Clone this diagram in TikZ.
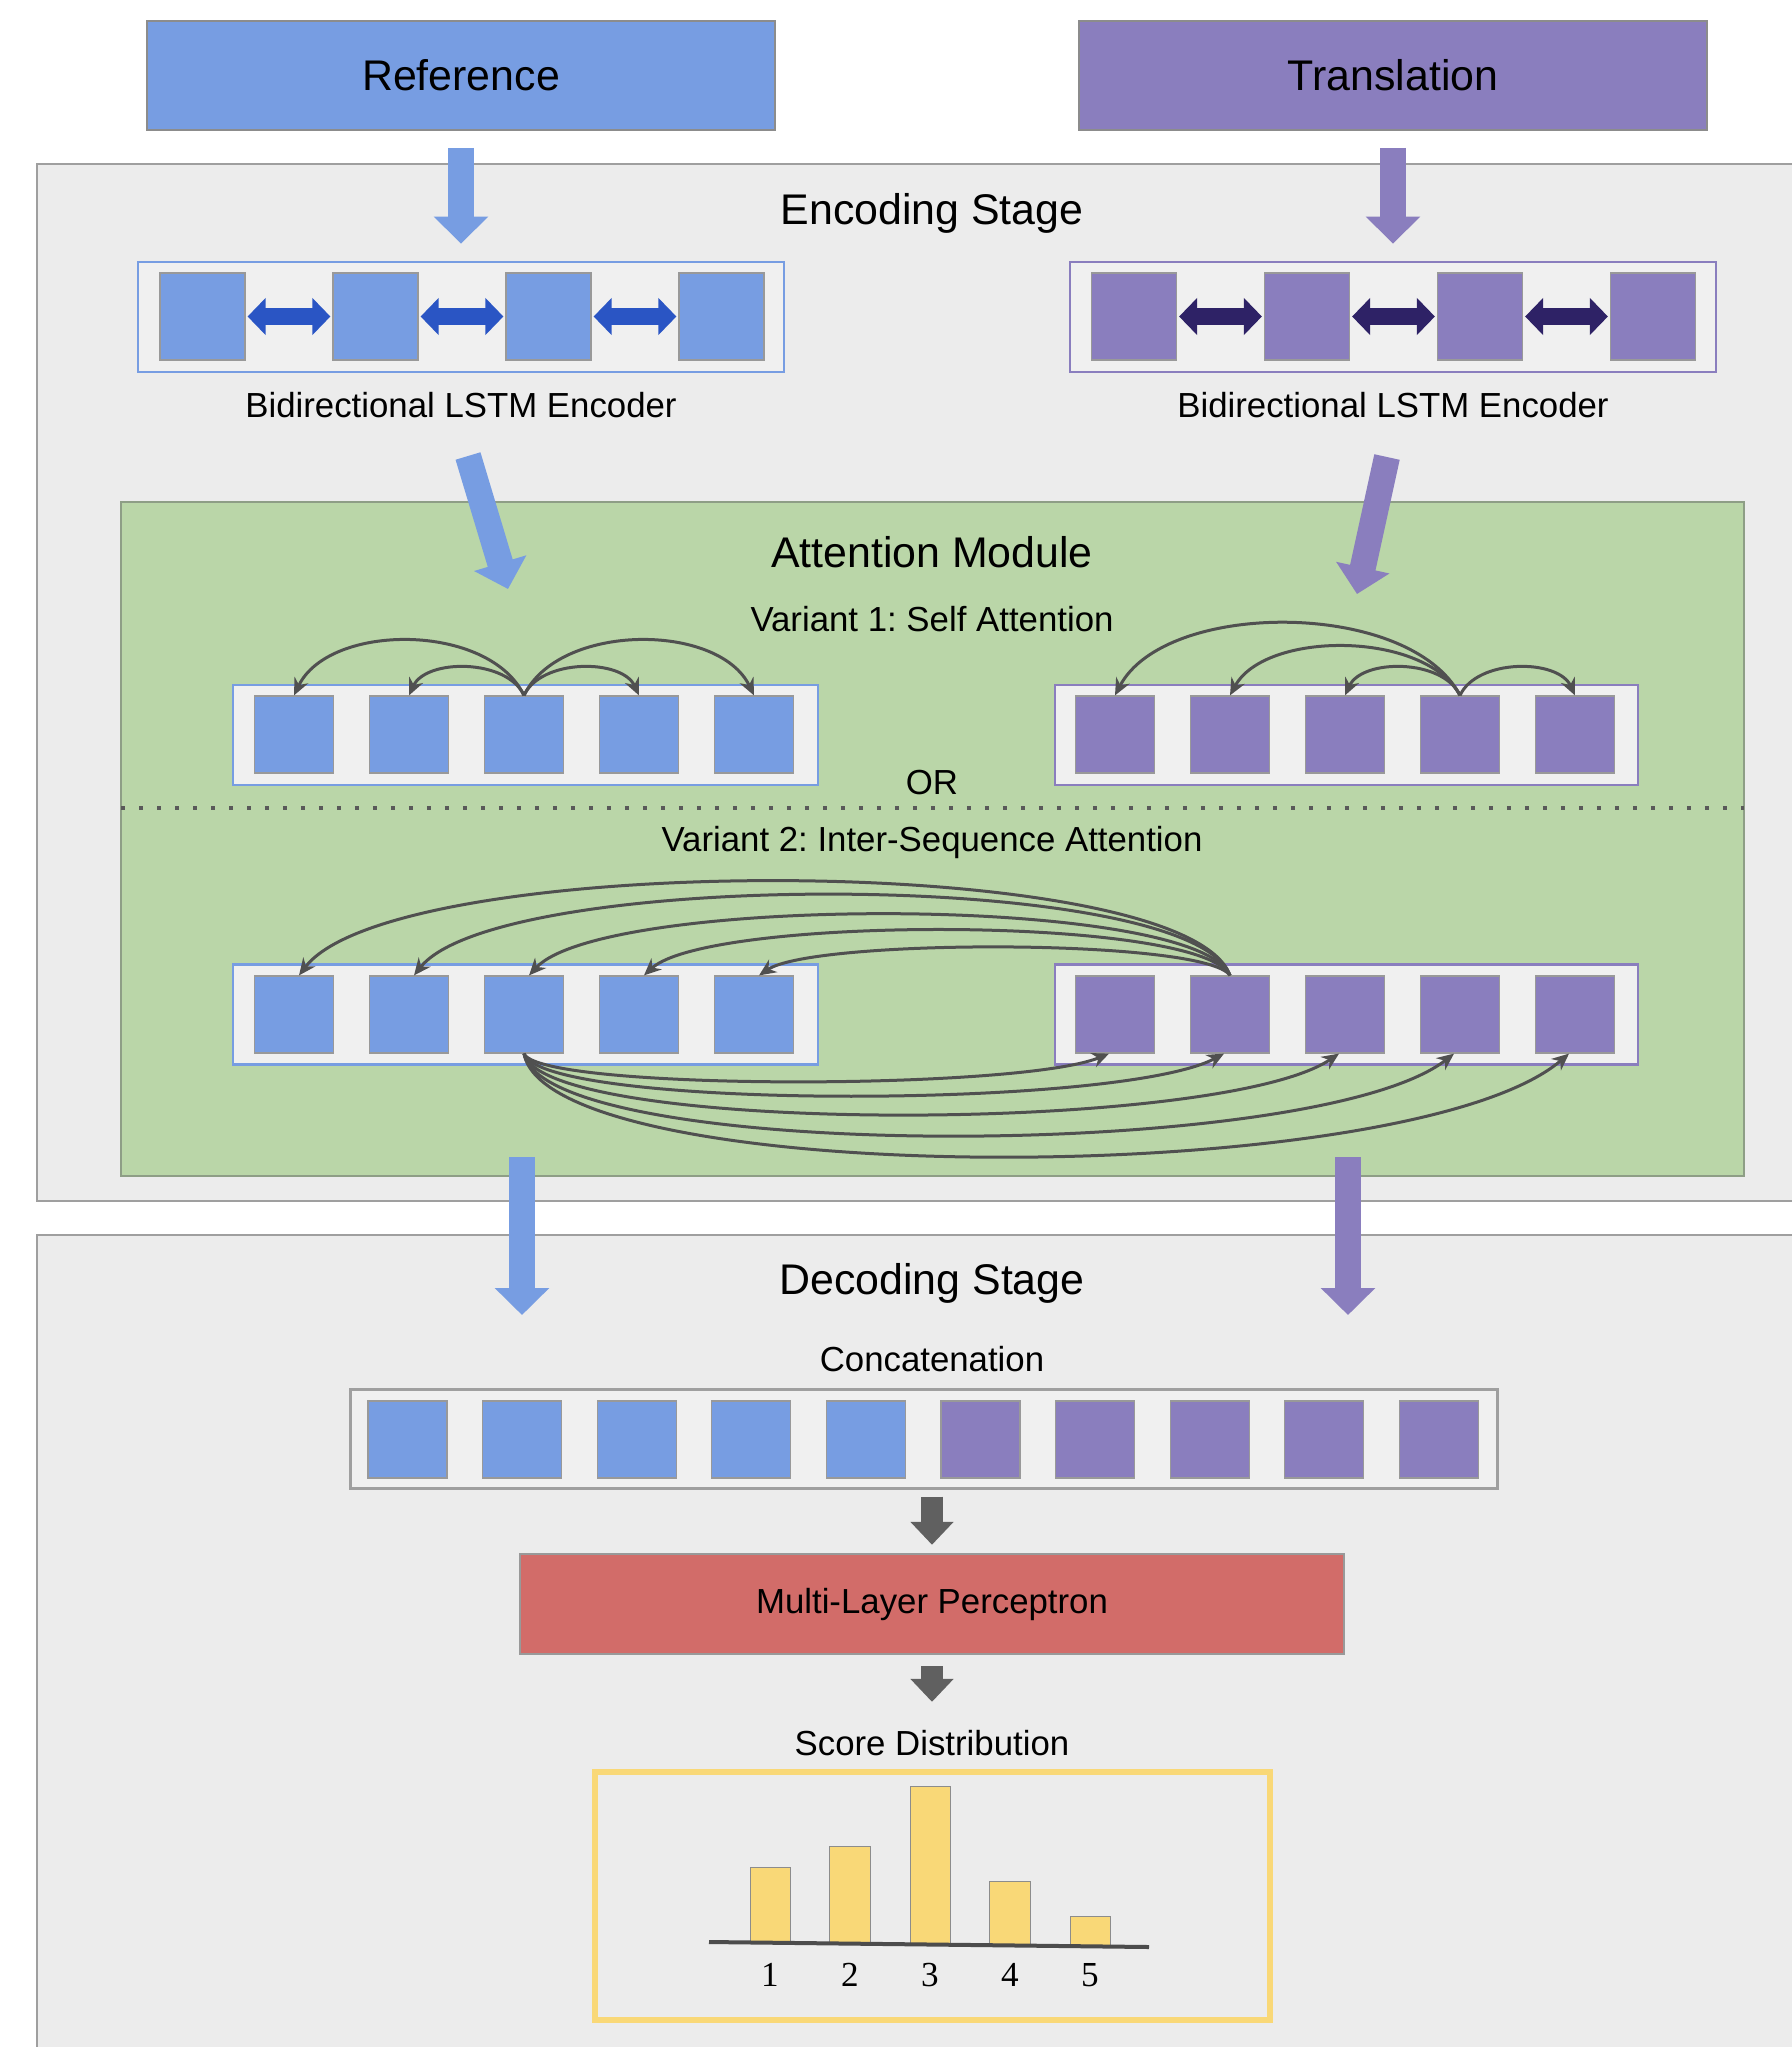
\documentclass[tikz,border=0pt]{standalone}
\usepackage{fontspec}
\setmainfont{Liberation Sans}
\newfontfamily\digitfont{Liberation Serif}
\usetikzlibrary{arrows.meta}
\frenchspacing

\definecolor{refblue}{HTML}{779DE2}
\definecolor{trpurple}{HTML}{8A7EBE}
\definecolor{attgreen}{HTML}{BAD6A8}
\definecolor{attborder}{HTML}{8E9E86}
\definecolor{stagegrey}{HTML}{ECECEC}
\definecolor{boxgrey}{HTML}{F0F0F0}
\definecolor{lstmblue}{HTML}{2A55C4}
\definecolor{lstmpurple}{HTML}{2E2266}
\definecolor{mlpred}{HTML}{D26C69}
\definecolor{scoreyellow}{HTML}{F9D877}
\definecolor{arcgrey}{HTML}{505050}

\begin{document}
\begin{tikzpicture}[x=0.1mm, y=-0.1mm,
	bigtext/.style={font=\fontsize{12.2}{14}\selectfont},
	smalltext/.style={font=\fontsize{9.9}{12}\selectfont},
	inbox/.style={rectangle, draw=gray!90, line width=0.15mm, minimum width=62.8mm, minimum height=10.9mm, bigtext},
	stagepanel/.style={draw=gray!75, fill=stagegrey, line width=0.2mm},
	seqbox/.style={rectangle, fill=boxgrey, line width=0.28mm, inner sep=0},
	enccell/.style={rectangle, draw=gray!80, line width=0.12mm, minimum width=8.5mm, minimum height=8.7mm, inner sep=0},
	attcell/.style={rectangle, draw=gray!80, line width=0.12mm, minimum width=7.9mm, minimum height=7.7mm, inner sep=0},
	lstmlink/.style={line width=1.7mm, shorten <=0.2mm, shorten >=0.2mm, {Triangle[width=3.6mm,length=1.8mm]}-{Triangle[width=3.6mm,length=1.8mm]}},
	blockarrow/.style={line width=2.6mm, -{Triangle[width=5.3mm,length=2.7mm]}},
	greyarrow/.style={line width=2.2mm, draw=gray!75!black, -{Triangle[width=4.2mm,length=2.3mm]}},
	attnarc/.style={draw=arcgrey, line width=0.3mm, -{Stealth[length=1.7mm,width=1.5mm]}}]
	\useasboundingbox (0,0) rectangle (1792,2047);
	\clip (0,0) rectangle (1792,2047);

	% plate
	\draw[stagepanel] (37,164) rectangle (1820,1201);
	\draw[stagepanel] (37,1235) rectangle (1820,2080);
	\draw[draw=attborder, fill=attgreen, line width=0.2mm] (121,502) rectangle (1744,1176);
	\draw[draw=gray!70!black, line width=0.4mm, dash pattern=on 0.4mm off 1.4mm] (121,808) -- (1744,808);

	% nodes
	\node[inbox, fill=refblue] (ref) at (461,75.5) {Reference}; %
	\node[inbox, fill=trpurple] (trans) at (1393,75.5) {Translation}; %

	\node[bigtext] (enctitle) at (932,213) {Encoding Stage}; %
	\node[bigtext] (atttitle) at (932,552) {Attention Module}; %
	\node[smalltext] (var1) at (932,619) {Variant 1: Self Attention}; %
	\node[smalltext] (or) at (932,783) {OR}; %
	\node[smalltext] (var2) at (932,842) {Variant 2: Inter-Sequence Attention}; %
	\node[bigtext] (dectitle) at (932,1283) {Decoding Stage}; %
	\node[smalltext] (concatlab) at (932,1359) {Concatenation}; %
	\node[smalltext] (scorelab) at (932,1743) {Score Distribution}; %

	% encoders
	\node[seqbox, draw=refblue, minimum width=64.6mm, minimum height=11mm] (encA) at (461,317) {}; %
	\node[enccell, fill=refblue] (a1) at (202.5,316.5) {}; %
	\node[enccell, fill=refblue] (a2) at (375.5,316.5) {}; %
	\node[enccell, fill=refblue] (a3) at (548.5,316.5) {}; %
	\node[enccell, fill=refblue] (a4) at (721.5,316.5) {}; %
	\node[smalltext] (encAlab) at (461,405) {Bidirectional LSTM Encoder}; %

	\node[seqbox, draw=trpurple, minimum width=64.6mm, minimum height=11mm] (encB) at (1393,317) {}; %
	\node[enccell, fill=trpurple] (b1) at (1134,316.5) {}; %
	\node[enccell, fill=trpurple] (b2) at (1307,316.5) {}; %
	\node[enccell, fill=trpurple] (b3) at (1480,316.5) {}; %
	\node[enccell, fill=trpurple] (b4) at (1653,316.5) {}; %
	\node[smalltext] (encBlab) at (1393,405) {Bidirectional LSTM Encoder}; %

	% self attention
	\node[seqbox, draw=refblue, minimum width=58.5mm, minimum height=10mm] (selfA) at (525.5,735) {}; %
	\node[attcell, fill=refblue] (s1) at (294,734.5) {}; %
	\node[attcell, fill=refblue] (s2) at (409,734.5) {}; %
	\node[attcell, fill=refblue] (s3) at (524,734.5) {}; %
	\node[attcell, fill=refblue] (s4) at (639,734.5) {}; %
	\node[attcell, fill=refblue] (s5) at (754,734.5) {}; %

	\node[seqbox, draw=trpurple, minimum width=58.3mm, minimum height=10mm] (selfB) at (1346.5,735) {}; %
	\node[attcell, fill=trpurple] (t1) at (1115,734.5) {}; %
	\node[attcell, fill=trpurple] (t2) at (1230,734.5) {}; %
	\node[attcell, fill=trpurple] (t3) at (1345,734.5) {}; %
	\node[attcell, fill=trpurple] (t4) at (1460,734.5) {}; %
	\node[attcell, fill=trpurple] (t5) at (1575,734.5) {}; %

	% inter-sequence attention
	\node[seqbox, draw=refblue, minimum width=58.5mm, minimum height=10mm] (interA) at (525.5,1014.5) {}; %
	\node[attcell, fill=refblue] (u1) at (294,1014.5) {}; %
	\node[attcell, fill=refblue] (u2) at (409,1014.5) {}; %
	\node[attcell, fill=refblue] (u3) at (524,1014.5) {}; %
	\node[attcell, fill=refblue] (u4) at (639,1014.5) {}; %
	\node[attcell, fill=refblue] (u5) at (754,1014.5) {}; %

	\node[seqbox, draw=trpurple, minimum width=58.3mm, minimum height=10mm] (interB) at (1346.5,1014.5) {}; %
	\node[attcell, fill=trpurple] (v1) at (1115,1014.5) {}; %
	\node[attcell, fill=trpurple] (v2) at (1230,1014.5) {}; %
	\node[attcell, fill=trpurple] (v3) at (1345,1014.5) {}; %
	\node[attcell, fill=trpurple] (v4) at (1460,1014.5) {}; %
	\node[attcell, fill=trpurple] (v5) at (1575,1014.5) {}; %

	% decoding
	\node[seqbox, draw=gray!75, line width=0.3mm, minimum width=114.7mm, minimum height=9.9mm] (concat) at (923.5,1438.5) {}; %
	\node[attcell, fill=refblue] (k1) at (407.5,1439.5) {}; %
	\node[attcell, fill=refblue] (k2) at (522.1,1439.5) {}; %
	\node[attcell, fill=refblue] (k3) at (636.7,1439.5) {}; %
	\node[attcell, fill=refblue] (k4) at (751.3,1439.5) {}; %
	\node[attcell, fill=refblue] (k5) at (865.9,1439.5) {}; %
	\node[attcell, fill=trpurple] (k6) at (980.5,1439.5) {}; %
	\node[attcell, fill=trpurple] (k7) at (1095.1,1439.5) {}; %
	\node[attcell, fill=trpurple] (k8) at (1209.7,1439.5) {}; %
	\node[attcell, fill=trpurple] (k9) at (1324.3,1439.5) {}; %
	\node[attcell, fill=trpurple] (k10) at (1438.9,1439.5) {}; %
	\node[rectangle, fill=mlpred, draw=gray!80, line width=0.25mm, minimum width=82.4mm, minimum height=10mm, smalltext] (mlp) at (932,1604) {Multi-Layer Perceptron}; %
	\node[rectangle, draw=scoreyellow, fill=stagegrey, line width=0.6mm, minimum width=67.5mm, minimum height=24.8mm] (scorebox) at (932.5,1896) {}; %

	% bars
	\draw[fill=scoreyellow, draw=gray!90, line width=0.1mm] (750,1943) rectangle (790,1867);
	\draw[fill=scoreyellow, draw=gray!90, line width=0.1mm] (829,1944) rectangle (870,1846);
	\draw[fill=scoreyellow, draw=gray!90, line width=0.1mm] (910,1944) rectangle (950,1786);
	\draw[fill=scoreyellow, draw=gray!90, line width=0.1mm] (989,1945) rectangle (1030,1881);
	\draw[fill=scoreyellow, draw=gray!90, line width=0.1mm] (1070,1946) rectangle (1110,1916);
	\draw[line width=0.4mm, gray!60!black] (709,1942) -- (1149,1947);
	\node[font=\digitfont\fontsize{10}{12}\selectfont] (n1) at (770,1975) {1}; %
	\node[font=\digitfont\fontsize{10}{12}\selectfont] (n2) at (850,1975) {2}; %
	\node[font=\digitfont\fontsize{10}{12}\selectfont] (n3) at (930,1975) {3}; %
	\node[font=\digitfont\fontsize{10}{12}\selectfont] (n4) at (1010,1975) {4}; %
	\node[font=\digitfont\fontsize{10}{12}\selectfont] (n5) at (1090,1975) {5}; %

	% free ends
	\coordinate (tailA) at (468,456);
	\coordinate (tipA) at (508,589);
	\coordinate (tailB) at (1387,457);
	\coordinate (tipB) at (1357,594);
	\coordinate (outA) at (522,1157);
	\coordinate (decA) at (522,1315);
	\coordinate (outB) at (1348,1157);
	\coordinate (decB) at (1348,1315);

	% edges
	\draw[blockarrow, refblue, shorten <=1.7mm, shorten >=1.7mm] (ref) -- (encA);
	\draw[blockarrow, trpurple, shorten <=1.7mm, shorten >=1.7mm] (trans) -- (encB);
	\draw[lstmlink, lstmblue] (a1) -- (a2);
	\draw[lstmlink, lstmblue] (a2) -- (a3);
	\draw[lstmlink, lstmblue] (a3) -- (a4);
	\draw[lstmlink, lstmpurple] (b1) -- (b2);
	\draw[lstmlink, lstmpurple] (b2) -- (b3);
	\draw[lstmlink, lstmpurple] (b3) -- (b4);
	\draw[blockarrow, refblue] (tailA) -- (tipA);
	\draw[blockarrow, trpurple] (tailB) -- (tipB);

	\draw[attnarc] (s3.north) .. controls +(-35,-73) and +(35,-73) .. (s1.north);
	\draw[attnarc] (s3.north) .. controls +(-17,-37) and +(17,-37) .. (s2.north);
	\draw[attnarc] (s3.north) .. controls +(17,-37) and +(-17,-37) .. (s4.north);
	\draw[attnarc] (s3.north) .. controls +(35,-73) and +(-35,-73) .. (s5.north);
	\draw[attnarc] (t4.north) .. controls +(-50,-96) and +(50,-96) .. (t1.north);
	\draw[attnarc] (t4.north) .. controls +(-35,-65) and +(35,-65) .. (t2.north);
	\draw[attnarc] (t4.north) .. controls +(-17,-37) and +(17,-37) .. (t3.north);
	\draw[attnarc] (t4.north) .. controls +(17,-37) and +(-17,-37) .. (t5.north);

	\draw[attnarc] (v2.north) .. controls +(-45,-125) and +(95,-125) .. ([xshift=0.5mm]u1.north);
	\draw[attnarc] (v2.north) .. controls +(-40,-107) and +(85,-107) .. ([xshift=0.5mm]u2.north);
	\draw[attnarc] (v2.north) .. controls +(-35,-81) and +(75,-81) .. ([xshift=0.5mm]u3.north);
	\draw[attnarc] (v2.north) .. controls +(-30,-60) and +(65,-60) .. ([xshift=0.5mm]u4.north);
	\draw[attnarc] (v2.north) .. controls +(-25,-37) and +(55,-37) .. ([xshift=0.5mm]u5.north);

	\draw[attnarc] (u3.south) .. controls +(15,37) and +(-90,37) .. ([xshift=-0.6mm]v1.south);
	\draw[attnarc] (u3.south) .. controls +(18,56) and +(-105,56) .. ([xshift=-0.6mm]v2.south);
	\draw[attnarc] (u3.south) .. controls +(20,81) and +(-120,81) .. ([xshift=-0.6mm]v3.south);
	\draw[attnarc] (u3.south) .. controls +(22,109) and +(-140,109) .. ([xshift=-0.6mm]v4.south);
	\draw[attnarc] (u3.south) .. controls +(25,137) and +(-160,137) .. ([xshift=-0.6mm]v5.south);

	\draw[blockarrow, refblue] (outA) -- (decA);
	\draw[blockarrow, trpurple] (outB) -- (decB);
	\draw[greyarrow, shorten <=0.7mm, shorten >=0.8mm] (concat.south -| mlp.north) -- (mlp.north);
	\draw[greyarrow, shorten <=1.1mm, shorten >=1.6mm] (mlp) -- (scorelab);
\end{tikzpicture}
\end{document}
